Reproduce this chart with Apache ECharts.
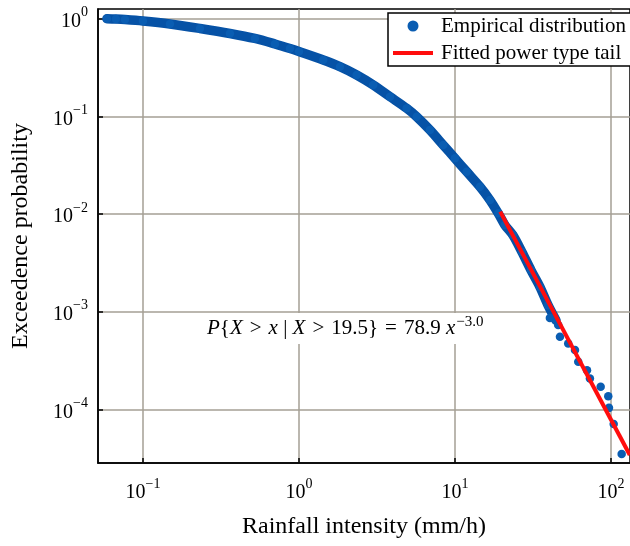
<!DOCTYPE html>
<html>
<head>
<meta charset="utf-8">
<script src="https://cdn.jsdelivr.net/npm/echarts@6/dist/echarts.min.js"></script>
<style>
  html, body { margin: 0; padding: 0; background: #fff; }
  #main { width: 630px; height: 546px; }
</style>
</head>
<body>
<div id="main"></div>
<script>
// 经验分布（密集部分），读图所得
let bandX = [0.0588, 0.0671, 0.0767, 0.1, 0.149, 0.232, 0.361, 0.522, 0.702, 0.876, 1.0, 1.432, 1.831,
    2.344, 2.995, 3.831, 4.901, 5.683, 6.915, 8.414, 10.0, 11.89, 14.47, 16.77, 18.95, 20.9, 23.5, 26.9,
    30.7, 35.1, 39.5, 44.4];
let bandY = [0.995, 0.988, 0.977, 0.945, 0.881, 0.792, 0.704, 0.626, 0.550, 0.494, 0.4605, 0.377, 0.322,
    0.2647, 0.2091, 0.1587, 0.1208, 0.0991, 0.0724, 0.0508, 0.0372, 0.0271, 0.0190, 0.0139, 0.01017,
    0.00772, 0.0061, 0.00408, 0.00267, 0.00179, 0.00117, 0.00082];
// 尾部离散点
let tailX = [40.6, 45.9, 47.1, 53.2, 58.8, 61.7, 70.2, 73.3, 85.9, 96.1, 97.1, 104.1, 117.1];
let tailY = [8.62e-4, 7.31e-4, 5.55e-4, 4.75e-4, 4.06e-4, 3.08e-4, 2.53e-4, 2.08e-4, 1.71e-4, 1.37e-4,
    1.04e-4, 7.1e-5, 3.5e-5];
// 拟合的幂律尾部
let fitX = [19.5, 132];
let fitY = [0.0106, 3.43e-5];

let xTicks = [-1, 0, 1, 2];
let yTicks = [-4, -3, -2, -1, 0];

let font = 'Liberation Serif';
let blue = '#0a5db2';

function toLog(xs, ys) {
    return xs.map((x, i) => [Math.log10(x), Math.log10(ys[i])]);
}

function powLabel(v) {
    let e = v < 0 ? '\u2212' + (-v) : String(v);
    return '{b|10}{s|' + e + '}';
}

let labelRich = {
    b: { fontFamily: font, fontSize: 20, color: '#000', lineHeight: 26, verticalAlign: 'bottom' },
    s: { fontFamily: font, fontSize: 14, color: '#000', lineHeight: 16, verticalAlign: 'top' }
};

let myChart = echarts.init(document.getElementById('main'));

let sp = '\u2004';
let formula = '{i|P}{n|{}{i|X}{n|' + sp + '>' + sp + '}{i|x}{n| | }{i|X}{n|' + sp + '>' + sp + '19.5}}'
    + '{n|' + sp + '=' + sp + '78.9 }{i|x}{s|\u22123.0}';

let option = {
    backgroundColor: '#fff',
    animation: false,
    grid: {
        left: 98,
        right: 0,
        top: 9,
        bottom: 83,
        show: true,
        borderColor: '#000',
        borderWidth: 1.5,
        backgroundColor: 'transparent'
    },
    legend: {
        data: [
            { name: 'Empirical distribution', icon: 'circle' },
            { name: 'Fitted power type tail', icon: 'path://M0,0L40,0L40,4L0,4Z' }
        ],
        orient: 'vertical',
        left: 388,
        top: 13,
        align: 'left',
        itemWidth: 40,
        itemHeight: 11,
        itemGap: 5,
        padding: [2, 40, 2, 5],
        backgroundColor: '#fff',
        borderColor: '#000',
        borderWidth: 1.5,
        borderRadius: 0,
        textStyle: { fontFamily: font, fontSize: 21, color: '#000', lineHeight: 22, padding: [0, 0, 0, 3] }
    },
    xAxis: {
        type: 'value',
        min: -1.288,
        max: 2.122,
        name: 'Rainfall intensity (mm/h)',
        nameLocation: 'middle',
        nameGap: 52,
        nameTextStyle: { fontFamily: font, fontSize: 24, color: '#000' },
        axisLine: { onZero: false, lineStyle: { color: '#000', width: 1.5 } },
        axisTick: { customValues: xTicks, inside: true, length: 5, lineStyle: { color: '#000', width: 1.5 } },
        axisLabel: { customValues: xTicks, margin: 14, formatter: powLabel, rich: labelRich },
        splitLine: { show: true, lineStyle: { color: '#a59f94', width: 1.5 } }
    },
    yAxis: {
        type: 'value',
        min: -4.547,
        max: 0.098,
        name: 'Exceedence probability',
        nameLocation: 'middle',
        nameGap: 65,
        nameTextStyle: { fontFamily: font, fontSize: 24, color: '#000' },
        axisLine: { onZero: false, lineStyle: { color: '#000', width: 1.5 } },
        axisTick: { customValues: yTicks, inside: true, length: 5, lineStyle: { color: '#000', width: 1.5 } },
        axisLabel: { customValues: yTicks, margin: 10, formatter: powLabel, rich: labelRich },
        splitLine: { show: true, lineStyle: { color: '#a59f94', width: 1.5 } }
    },
    graphic: [
        {
            type: 'text',
            left: 203,
            top: 313,
            z: 10,
            style: {
                text: formula,
                fontFamily: font,
                fontSize: 21,
                fill: '#000',
                backgroundColor: '#fff',
                padding: [2, 4, 2, 4],
                rich: {
                    n: { fontFamily: font, fontSize: 21 },
                    i: { fontFamily: font, fontSize: 21, fontStyle: 'italic' },
                    s: { fontFamily: font, fontSize: 15, padding: [0, 0, 12, 1] }
                }
            }
        }
    ],
    series: [
        {
            name: 'band',
            type: 'line',
            data: toLog(bandX, bandY),
            smooth: 0.3,
            symbol: 'none',
            lineStyle: { color: '#0652a6', width: 9.5, cap: 'round', join: 'round' },
            z: 2
        },
        {
            name: 'Empirical distribution',
            type: 'scatter',
            data: toLog(bandX.concat(tailX), bandY.concat(tailY)),
            symbolSize: 8.5,
            itemStyle: { color: blue, opacity: 1 },
            z: 3
        },
        {
            name: 'Fitted power type tail',
            type: 'line',
            data: toLog(fitX, fitY),
            symbol: 'none',
            lineStyle: { color: '#ff0d0d', width: 4 },
            itemStyle: { color: '#ff0d0d' },
            z: 4
        }
    ]
};

myChart.setOption(option);
</script>
</body>
</html>
